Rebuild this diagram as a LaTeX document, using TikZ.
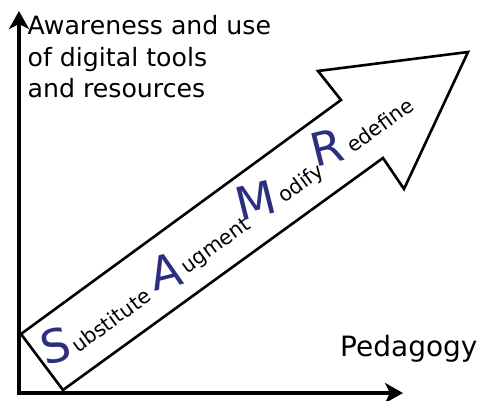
\documentclass[tikz,border=0pt]{standalone}
\usepackage{fontspec}
\setmainfont{DejaVu Sans}
\usetikzlibrary{arrows.meta}
\definecolor{samrblue}{RGB}{43,47,125}
\tikzset{
  axisline/.style={line width=3.2pt,-{Stealth[length=18pt,width=20pt,inset=5pt]}},
  samrarrow/.style={draw=black,line width=2.6pt,line join=miter,fill=white},
  axislabel/.style={inner sep=0pt,anchor=base west},
  initial/.style={inner sep=0pt,anchor=center,rotate=14,text=samrblue,font=\fontsize{46}{46}\selectfont},
  rest/.style={inner sep=0pt,anchor=base west,rotate=36,font=\fontsize{20.5}{20.5}\selectfont},
}
\begin{document}
\begin{tikzpicture}[x=1pt,y=-1pt]
\useasboundingbox (0,0) rectangle (482,401);
% axes
\coordinate (ytip) at (19,11);
\coordinate (xtip) at (403,393);
\draw[axisline] (19,394.6) -- (ytip);
\draw[axisline] (17.4,393) -- (xtip);
% arrow
\coordinate (p1) at (21,334);
\coordinate (p2) at (341,100);
\coordinate (p3) at (318,71);
\coordinate (p4) at (468,52);
\coordinate (p5) at (404,189);
\coordinate (p6) at (383,158);
\coordinate (p7) at (63,390);
\draw[samrarrow] (p1) -- (p2) -- (p3) -- (p4) -- (p5) -- (p6) -- (p7) -- cycle;
% text along arrow (x = along the shaft, y = minus offset from its axis)
\begin{scope}[shift={(42,362)},rotate=36]
  \node[initial] (s) at (20.7,-4.7) {S};
  \node[rest] (ubst) at (34,14.5) {ubstitute};
  \node[initial] (a) at (153.2,-1) {A};
  \node[rest] (ugm) at (169,14.5) {ugment};
  \node[initial] (m) at (268.4,-5.3) {M};
  \node[rest] (odf) at (289,14.5) {odify};
  \node[initial] (r) at (357,-6.3) {R};
  \node[rest] (edf) at (374,14.5) {edefine};
\end{scope}
% labels
\node[axislabel,font=\fontsize{25.2}{31}\selectfont] (yl1) at (27.5,35) {Awareness and use};
\node[axislabel,font=\fontsize{25.2}{31}\selectfont] (yl2) at (27.5,66.5) {of digital tools};
\node[axislabel,font=\fontsize{25.2}{31}\selectfont] (yl3) at (27.5,98) {and resources};
\node[axislabel,font=\fontsize{28}{33}\selectfont] (xl) at (340,356) {Pedagogy};
\end{tikzpicture}
\end{document}
